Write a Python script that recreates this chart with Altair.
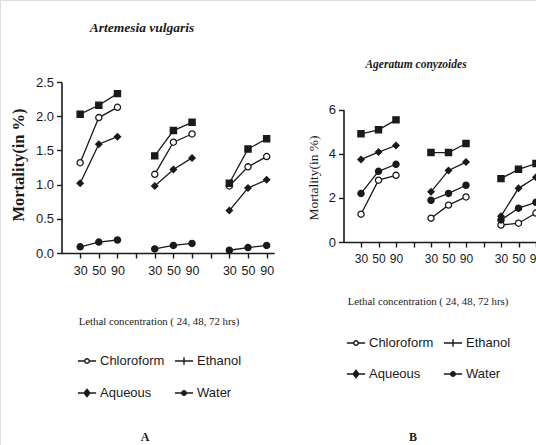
import altair as alt
import pandas as pd

# ---------------- data ----------------
series = ["Chloroform", "Ethanol", "Aqueous", "Water"]
conc_labels = ["30", "50", "90"]
positions = [1, 2, 3, 5, 6, 7, 9, 10, 11]     # 24 hrs | 48 hrs | 72 hrs
groups = ["24", "24", "24", "48", "48", "48", "72", "72", "72"]

# Panel A: Artemesia vulgaris
a_chloroform = [1.32, 1.98, 2.13, 1.15, 1.62, 1.74, 0.98, 1.26, 1.41]
a_ethanol = [2.03, 2.16, 2.33, 1.42, 1.79, 1.91, 1.02, 1.52, 1.67]
a_aqueous = [1.02, 1.59, 1.70, 0.98, 1.22, 1.39, 0.62, 0.95, 1.07]
a_water = [0.09, 0.16, 0.19, 0.06, 0.11, 0.14, 0.04, 0.08, 0.11]

# Panel B: Ageratum conyzoides
b_chloroform = [1.26, 2.80, 3.02, 1.08, 1.67, 2.04, 0.77, 0.85, 1.31]
b_ethanol = [4.90, 5.08, 5.53, 4.05, 4.05, 4.46, 2.87, 3.29, 3.55]
b_aqueous = [3.74, 4.07, 4.37, 2.27, 3.24, 3.62, 1.17, 2.43, 2.93]
b_water = [2.20, 3.20, 3.52, 1.89, 2.20, 2.57, 1.00, 1.53, 1.80]

a_values = [a_chloroform, a_ethanol, a_aqueous, a_water]
b_values = [b_chloroform, b_ethanol, b_aqueous, b_water]


def long_table(values):
    rows = []
    for s, vals in zip(series, values):
        for p, g, v in zip(positions, groups, vals):
            rows.append({"series": s, "pos": p, "grp": g, "value": v, "key": s + g})
    return pd.DataFrame(rows)


df_a = long_table(a_values)
df_b = long_table(b_values)
# legend table: two columns, two rows, in series order
df_leg = pd.DataFrame({
    "series": series,
    "col": [i % 2 for i in range(len(series))],
    "row": [i // 2 for i in range(len(series))],
})

W, H = 536, 445
TICK_FONT = "Liberation Sans, Arial, sans-serif"
SERIF = "Liberation Serif, DejaVu Serif, serif"
INK = "#1a1a1a"

label_list = "[" + ",".join("'%s'" % c for c in conc_labels) + "]"
x_label_expr = "(datum.value % 4 == 0) ? '' : " + label_list + "[(datum.value - 1) % 4]"

marker_shapes = ["circle", "square", "diamond", "circle"]
marker_fills = ["white", INK, INK, INK]
legend_paths = [
    "M-1,0H-0.25M0.25,0H1M-0.25,0A0.25,0.25,0,1,0,0.25,0A0.25,0.25,0,1,0,-0.25,0Z",
    "M-1,0H1M0,-0.4V0.4",
    "M-1,0H1M-0.32,0L0,-0.4L0.32,0L0,0.4Z",
    "M-1,0H1M-0.25,0A0.25,0.25,0,1,0,0.25,0A0.25,0.25,0,1,0,-0.25,0Z",
]


def panel(df, x_left, unit, x_max, y0, y1, y_max, y_ticks, y_fmt, xtick_size, ytick_size):
    x_right = x_left + unit * x_max
    x = alt.X(
        "pos:Q",
        scale=alt.Scale(domain=[0, x_max], range=[x_left, x_right], nice=False, zero=False),
        axis=alt.Axis(
            orient="bottom", offset=-(H - y0), values=list(range(1, 12)),
            labelExpr=x_label_expr, title=None, grid=False,
            domainColor=INK, domainWidth=1.6, tickColor=INK, tickWidth=1.4, tickSize=5,
            labelFont=TICK_FONT, labelFontSize=xtick_size, labelColor=INK, labelPadding=6,
        ),
    )
    y = alt.Y(
        "value:Q",
        scale=alt.Scale(domain=[0, y_max], range=[y0, y1], nice=False, zero=True),
        axis=alt.Axis(
            orient="left", offset=-x_left, values=y_ticks, format=y_fmt, title=None, grid=False,
            domainColor=INK, domainWidth=1.6, tickColor=INK, tickWidth=1.4, tickSize=5,
            labelFont=TICK_FONT, labelFontSize=ytick_size, labelColor=INK, labelPadding=3,
        ),
    )
    base = alt.Chart(df)
    layers = [base.mark_line(color=INK, strokeWidth=1.3).encode(x=x, y=y, detail="key:N")]
    for s, shp, fl in zip(series, marker_shapes, marker_fills):
        layers.append(
            base.transform_filter(alt.datum.series == s)
            .mark_point(size=38, strokeWidth=1.3, stroke=INK, fill=fl, shape=shp, opacity=1)
            .encode(x=x, y=y)
        )
    return alt.layer(*layers)


def legend(col_centers, row_centers):
    x = alt.X("col:Q", scale=alt.Scale(domain=[0, 1], range=col_centers, nice=False, zero=False), axis=None)
    y = alt.Y("row:Q", scale=alt.Scale(domain=[0, 1], range=row_centers, nice=False, zero=False), axis=None)
    base = alt.Chart(df_leg)
    sym = base.mark_point(size=330, stroke=INK, strokeWidth=1.4, opacity=1).encode(
        x=x, y=y,
        shape=alt.Shape("series:N", scale=alt.Scale(domain=series, range=legend_paths), legend=None),
        fill=alt.Fill("series:N", scale=alt.Scale(domain=series, range=marker_fills), legend=None),
    )
    lab = base.mark_text(font=TICK_FONT, fontSize=13, color=INK, align="left",
                         baseline="middle", dx=13).encode(x=x, y=y, text="series:N")
    return alt.layer(sym, lab)


panel_a = panel(df_a, 61.5, 18.65, 11.4, 253, 82, 2.5,
                [0.0, 0.5, 1.0, 1.5, 2.0, 2.5], ".1f", 12.5, 13)
panel_b = panel(df_b, 343.5, 17.5, 12, 242, 109.5, 6,
                [0, 2, 4, 6], "d", 12, 13)
legend_a = legend([87, 184], [361, 393])
legend_b = legend([356, 453], [343, 374])

blank = pd.DataFrame({"k": [0]})


def text(t, x, y, size, font=SERIF, weight="normal", style="normal", angle=0):
    return alt.Chart(blank).mark_text(
        font=font, fontSize=size, fontWeight=weight, fontStyle=style, color=INK,
        angle=angle, align="center", baseline="middle",
    ).encode(x=alt.value(x), y=alt.value(y), text=alt.value(t))


texts = [
    text("Artemesia vulgaris", 142, 28, 13.5, weight="bold", style="italic"),
    text("Ageratum conyzoides", 416, 65, 11.5, weight="bold", style="italic"),
    text("Mortality(in %)", 19, 165, 16.5, weight="bold", angle=270),
    text("Mortality(in %)", 314, 178, 13.5, angle=270),
    text("Lethal concentration ( 24, 48, 72 hrs)", 159, 322, 10.8),
    text("Lethal concentration ( 24, 48, 72 hrs)", 428, 302, 10.8),
    text("A", 145, 437, 12, weight="bold"),
    text("B", 413, 437, 12, weight="bold"),
]

chart = (
    alt.layer(panel_a, panel_b, legend_a, legend_b, *texts)
    .resolve_scale(x="independent", y="independent", shape="independent", fill="independent")
    .properties(width=W, height=H, autosize=alt.AutoSizeParams(type="none"), padding=0)
    .configure_view(stroke=None)
    .configure(background="white")
)

chart.save("out.html", embed_options={"renderer": "svg", "actions": False})
